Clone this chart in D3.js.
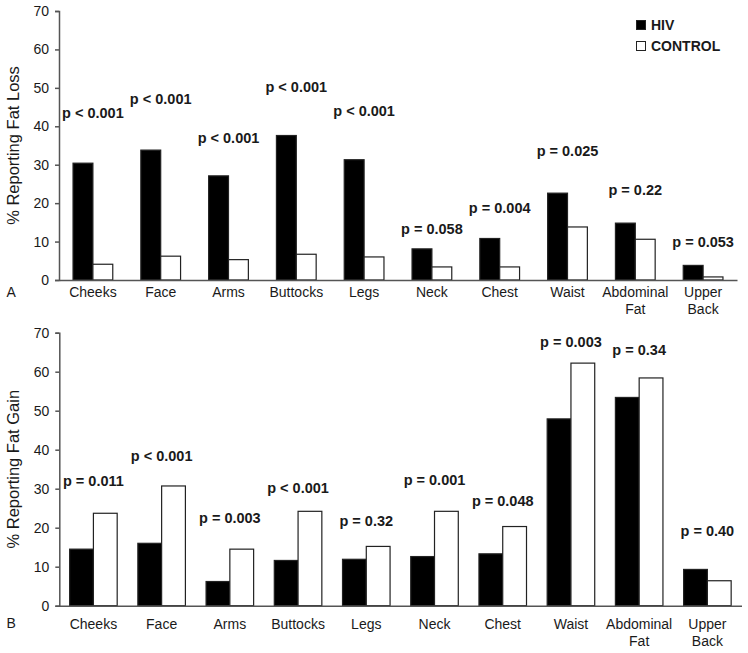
<!DOCTYPE html>
<html>
<head>
<meta charset="utf-8">
<script src="https://cdn.jsdelivr.net/npm/d3@7"></script>
<style>
  html, body { margin: 0; padding: 0; background: #fff; }
  svg { display: block; font-family: "Liberation Sans", Arial, Helvetica, sans-serif; }
</style>
</head>
<body>
<svg id="chart" width="748" height="653"></svg>
<script>
// ---- Data ----
const categories = ["Cheeks", "Face", "Arms", "Buttocks", "Legs", "Neck", "Chest", "Waist", "Abdominal Fat", "Upper Back"];
const seriesNames = ["HIV", "CONTROL"];
const yTicks = [0, 10, 20, 30, 40, 50, 60, 70];

// Panel A: % reporting fat loss
const lossHIV     = [30.4, 33.8, 27.1, 37.6, 31.3, 8.1, 10.8, 22.6, 14.8, 3.8];
const lossControl = [4.1, 6.2, 5.3, 6.7, 6.0, 3.4, 3.4, 13.8, 10.6, 0.8];
const lossP       = ["p < 0.001", "p < 0.001", "p < 0.001", "p < 0.001", "p < 0.001", "p = 0.058", "p = 0.004", "p = 0.025", "p = 0.22", "p = 0.053"];
const lossPLevel  = [42.1, 45.7, 35.6, 49.0, 42.7, 12.0, 17.4, 32.3, 22.1, 8.6];

// Panel B: % reporting fat gain
const gainHIV     = [14.5, 16.0, 6.2, 11.6, 11.9, 12.6, 13.3, 47.9, 53.4, 9.3];
const gainControl = [23.7, 30.7, 14.5, 24.2, 15.2, 24.2, 20.3, 62.2, 58.4, 6.4];
const gainP       = ["p = 0.011", "p < 0.001", "p = 0.003", "p < 0.001", "p = 0.32", "p = 0.001", "p = 0.048", "p = 0.003", "p = 0.34", "p = 0.40"];
const gainPLevel  = [30.8, 37.1, 21.1, 29.0, 20.4, 31.0, 25.6, 66.3, 64.3, 17.9];

const colors = { HIV: "#000", CONTROL: "#fff" };

const svg = d3.select("#chart");
const AXIS_COLOR = "#555";
const TEXT_COLOR = "#1a1a1a";

function drawPanel(cfg) {
  const g = svg.append("g");
  const x0 = d3.scaleBand().domain(categories)
    .range([cfg.left, cfg.right])
    .paddingInner(cfg.pad).paddingOuter(cfg.pad / 2);
  const x1 = d3.scaleBand().domain(seriesNames).range([0, x0.bandwidth()]);
  const y = d3.scaleLinear().domain([0, 70]).range([cfg.bottom, cfg.top]);

  const rows = categories.map((c, i) => ({ c, vals: [cfg.hiv[i], cfg.ctl[i]], p: cfg.p[i], pl: cfg.pl[i] }));

  // bars
  const grp = g.selectAll("g.grp").data(rows).join("g")
    .attr("transform", d => `translate(${x0(d.c)},0)`);
  grp.selectAll("rect").data(d => d.vals.map((v, k) => ({ s: seriesNames[k], v })))
    .join("rect")
    .attr("x", d => x1(d.s))
    .attr("width", x1.bandwidth())
    .attr("y", d => y(d.v))
    .attr("height", d => y(0) - y(d.v))
    .attr("fill", d => colors[d.s])
    .attr("stroke", "#222")
    .attr("stroke-width", 1.2);

  // p labels
  g.selectAll("text.p").data(rows).join("text")
    .attr("class", "p")
    .attr("x", d => x0(d.c) + x0.bandwidth() / 2)
    .attr("y", d => y(d.pl))
    .attr("text-anchor", "middle")
    .attr("font-size", "14.5px")
    .attr("font-weight", "bold")
    .attr("fill", TEXT_COLOR)
    .text(d => d.p);

  // y axis
  const yAxis = g.append("g")
    .attr("transform", `translate(${cfg.left},0)`)
    .call(d3.axisLeft(y).tickValues(yTicks).tickSize(4).tickPadding(6).tickFormat(d3.format("d")));
  yAxis.select(".domain").attr("stroke", AXIS_COLOR).attr("stroke-width", 1.5);
  yAxis.selectAll(".tick line").attr("stroke", AXIS_COLOR).attr("stroke-width", 1.5);
  yAxis.selectAll(".tick text").attr("font-size", "14px").attr("fill", TEXT_COLOR)
    .attr("font-family", "Liberation Sans, Arial, sans-serif");

  // x axis
  const xAxis = g.append("g")
    .attr("transform", `translate(0,${cfg.bottom})`)
    .call(d3.axisBottom(x0).tickSize(0).tickPadding(0).tickFormat(""));
  xAxis.select(".domain").attr("stroke", AXIS_COLOR).attr("stroke-width", 1.5);
  xAxis.selectAll(".tick text").remove();

  // category labels (two lines for multi-word)
  const lab = g.selectAll("text.cat").data(categories).join("text")
    .attr("class", "cat")
    .attr("x", d => x0(d) + x0.bandwidth() / 2)
    .attr("y", cfg.bottom + cfg.labelOffset)
    .attr("text-anchor", "middle")
    .attr("font-size", "14px")
    .attr("fill", TEXT_COLOR);
  lab.each(function (d) {
    const words = d.split(" ");
    const t = d3.select(this);
    words.forEach((w, i) => {
      t.append("tspan")
        .attr("x", x0(d) + x0.bandwidth() / 2)
        .attr("dy", i === 0 ? 0 : 17)
        .text(w);
    });
  });

  // y title
  g.append("text")
    .attr("transform", `translate(${cfg.titleX},${(cfg.top + cfg.bottom) / 2}) rotate(-90)`)
    .attr("text-anchor", "middle")
    .attr("font-size", "16.5px")
    .attr("fill", TEXT_COLOR)
    .text(cfg.title);

  // panel letter
  g.append("text")
    .attr("x", 6.5)
    .attr("y", cfg.letterY)
    .attr("font-size", "14px")
    .attr("fill", TEXT_COLOR)
    .text(cfg.letter);

  return { x0, y };
}

drawPanel({
  left: 59, right: 737, top: 11, bottom: 280, pad: 0.414,
  hiv: lossHIV, ctl: lossControl, p: lossP, pl: lossPLevel,
  labelOffset: 16.7, title: "% Reporting Fat Loss", titleX: 19, letter: "A", letterY: 296.7
});

drawPanel({
  left: 59.3, right: 741.5, top: 332.7, bottom: 605.7, pad: 0.303,
  hiv: gainHIV, ctl: gainControl, p: gainP, pl: gainPLevel,
  labelOffset: 23.6, title: "% Reporting Fat Gain", titleX: 19, letter: "B", letterY: 628.3
});

// legend
const legend = svg.append("g").attr("transform", "translate(636.5,20.5)");
seriesNames.forEach((s, i) => {
  const row = legend.append("g").attr("transform", `translate(0,${i * 21})`);
  row.append("rect").attr("width", 9).attr("height", 9)
    .attr("fill", colors[s]).attr("stroke", "#222").attr("stroke-width", 1);
  row.append("text").attr("x", 14.5).attr("y", 9.5)
    .attr("font-size", "14px").attr("font-weight", "bold").attr("fill", TEXT_COLOR)
    .text(s);
});
</script>
</body>
</html>
